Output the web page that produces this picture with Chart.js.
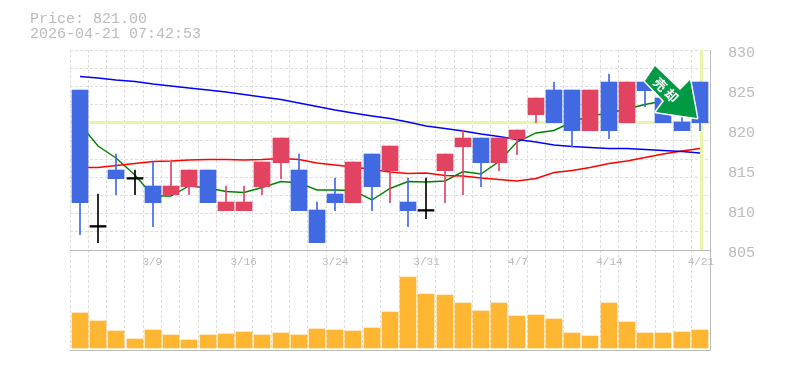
<!DOCTYPE html>
<html><head><meta charset="utf-8">
<style>html,body{margin:0;padding:0;background:#fff}#w{position:relative;width:785px;height:370px}canvas{display:block}</style>
<script src="https://cdn.jsdelivr.net/npm/chart.js@4"></script></head>
<body><div id="w"><canvas id="c" width="785" height="370"></canvas></div>
<script>
const dates=['3/3','3/4','3/5','3/6','3/9','3/10','3/11','3/12','3/13','3/16','3/17','3/18','3/19','3/23','3/24','3/25','3/26','3/27','3/30','3/31','4/1','4/2','4/3','4/6','4/7','4/8','4/9','4/10','4/13','4/14','4/15','4/16','4/17','4/20','4/21'];
const shownDates=['3/9','3/16','3/24','3/31','4/7','4/14','4/21'];
const opens=[825,808,815,814,813,812,813,815,810,810,813,816,815,810,812,811,817,815,811,810,815,818,819,816,819,822,825,825,820,826,821,826,824,821,826];
const closes=[811,808,814,814,811,813,815,811,811,811,816,819,810,806,811,816,813,818,810,810,817,819,816,819,820,824,821,820,825,820,826,825,821,820,821];
const highs=[825,812,817,815,816,816,815,815,813,813,816,819,817,811,814,816,817,818,814,814,817,820,819,819,820,824,826,825,825,827,826,826,824,822,826];
const lows=[807,806,812,812,808,812,812,811,810,810,812,814,810,806,810,811,810,811,808,809,811,812,813,815,817,821,821,818,820,819,821,823,821,820,820];
const volumes=[35,27,17,9,18,13,8,13,14,16,13,15,13,19,18,17,20,36,71,54,53,45,37,45,32,33,29,15,12,45,26,15,15,16,18];
const maLong=[826.69,826.5,826.25,826.06,825.75,825.5,825.25,825,824.75,824.44,824.13,823.81,823.38,822.94,822.5,822.13,821.75,821.44,821,820.5,820.19,819.88,819.5,819.19,818.81,818.5,818.13,817.94,817.81,817.69,817.69,817.56,817.44,817.31,817.13];
const maMid=[815.31,815.31,815.56,815.81,816.06,816.13,816.25,816.31,816.31,816.25,816.31,816.44,816.31,815.88,815.63,815.38,815.06,814.75,814.56,814.63,814.31,814.25,814,813.81,813.63,813.94,814.69,814.94,815.31,815.81,816.13,816.56,817,817.38,817.69];
const maShort=[820.75,818,816.5,814.38,811.75,811.75,813,812.75,812.31,812.19,812.81,813.56,813.38,812.5,812.5,812.44,811.25,812.69,813.56,813.5,813.63,814.81,814.5,816.06,818.5,819.63,819.94,821,821.75,822.13,822.63,823.19,823.63,824,824.13];
const priceTicks=[830,825,820,815,810,805];
const currentPrice=821;
const titleLines=['Price: 821.00','2026-04-21 07:42:53'];
const stamp='売却';

const BLUE='#4169e1',RED='#e24361',AMBER='#ffb733',BAND='#e6f5a8',GRID='#dddddd',AXIS='#bbbbbb',TXT='#bbbbbb';
const FONT='"Liberation Mono",monospace';
const n=dates.length;
const sel=(f)=>dates.map((_,i)=>f(i));
const kind=i=>opens[i]===closes[i]?'d':(closes[i]<opens[i]?'b':'r');
const wick=k=>sel(i=>kind(i)===k?[lows[i],highs[i]]:null);
const body=k=>sel(i=>kind(i)===k?[Math.min(opens[i],closes[i]),Math.max(opens[i],closes[i])]:null);
const bar=(data,color,thick,order,extra)=>Object.assign({type:'bar',data,backgroundColor:color,barThickness:thick,order,grouped:false,yAxisID:'y'},extra||{});
const line=(data,color,order)=>({type:'line',data,borderColor:color,borderWidth:1.4,pointRadius:0,tension:0,order,yAxisID:'y'});

const snap={id:'snap',beforeDatasetDraw(ch,a){const m=a.meta;if(m._snapped)return;m._snapped=true;
  m.data.forEach((el,i)=>{el.x=Math.round(80+(i*638/35));
    if(m.type==='bar'&&m.yAxisID==='y'&&el.base!==undefined)el.base+=0.7;});}};
const extras={id:'extras',
 beforeDatasetsDraw(ch){const c=ch.ctx,a=ch.chartArea,x=ch.scales.x,y=ch.scales.y;
  c.save();c.fillStyle=BAND;
  c.fillRect(a.left,y.getPixelForValue(currentPrice)-1,a.width,3);
  c.fillRect(Math.round(x.getPixelForValue(n-1))-1,a.top,3,y.getPixelForValue(805)-a.top);
  c.restore();},
 afterDraw(ch){const c=ch.ctx;c.save();
  c.font='15px '+FONT;c.fillStyle=TXT;c.textBaseline='alphabetic';c.textAlign='left';
  titleLines.forEach((t,i)=>c.fillText(t,30,23+i*15));
  const p=[[655,66],[680,90],[690,80],[697,118],[656,112],[664,101],[645,81]];
  c.beginPath();p.forEach((q,i)=>i?c.lineTo(q[0],q[1]):c.moveTo(q[0],q[1]));c.closePath();
  c.lineJoin='round';c.lineWidth=3;c.strokeStyle='#fff';c.stroke();c.fillStyle='#009944';c.fill();
  c.translate(666,90);c.rotate(Math.PI/4);c.fillStyle='#fff';
  c.font='bold 13px "Noto Sans CJK JP"';c.textAlign='center';c.textBaseline='middle';
  c.fillText(stamp[0],-8,0);c.fillText(stamp[1],8,0);
  c.restore();}};

new Chart(document.getElementById('c'),{
 data:{labels:dates,datasets:[
  line(maLong,'#0000ff',10),
  line(maMid,'#ff0000',10),
  line(maShort,'#008000',10),
  bar(wick('b'),BLUE,1,6),bar(wick('r'),RED,1,6),
  bar(body('b'),BLUE,16,5),bar(body('r'),RED,16,5),
  bar(sel(i=>kind(i)==='d'?[lows[i],highs[i]]:null),'#000',1,4),
  bar(sel(i=>kind(i)==='d'?[closes[i]-0.06,closes[i]+0.06]:null),'#000',16,4),
  {type:'bar',data:volumes,backgroundColor:AMBER,barThickness:16,order:3,grouped:false,yAxisID:'v'}
 ]},
 plugins:[snap,extras],
 options:{responsive:false,animation:false,
  layout:{padding:{left:70,right:0,top:50,bottom:0}},
  plugins:{legend:{display:false},tooltip:{enabled:false}},
  scales:{
   x:{type:'category',offset:true,afterFit(s){s.height=20},
      grid:{offset:true,color:GRID,lineWidth:1,tickLength:0,drawTicks:false},border:{display:true,color:AXIS,dash:[3,2]},
      ticks:{display:false,autoSkip:false}},
   xl:{type:'category',offset:true,position:{g:805},
      grid:{display:false,drawTicks:false},border:{display:false},
      ticks:{autoSkip:false,maxRotation:0,minRotation:0,padding:5,color:TXT,font:{family:FONT,size:11},
       callback(v,i){const l=dates[i];return shownDates.includes(l)?l:''}}},
   y:{position:'right',min:792.5,max:830,afterBuildTicks(s){s.ticks=priceTicks.map(v=>({value:v-0.375}))},afterFit(s){s.width=75},
      grid:{display:false},border:{display:true,color:AXIS},
      ticks:{padding:10,color:TXT,font:{family:FONT,size:15},callback(v,i){return String(priceTicks[i])}}},
   g:{position:'left',min:792.5,max:830,afterFit(s){s.width=0},
      afterBuildTicks(s){s.ticks=[0,1,2,3,4,5,6,7,8,9,10,11].map(k=>({value:830-k*25/11}))},
      grid:{color:c=>c.index===11?AXIS:GRID,drawTicks:false},border:{display:false,dash:c=>c.index===11?[]:[3,2]},ticks:{display:false}},
   v:{display:false,min:-2,max:298}
  }}
});
</script></body></html>
